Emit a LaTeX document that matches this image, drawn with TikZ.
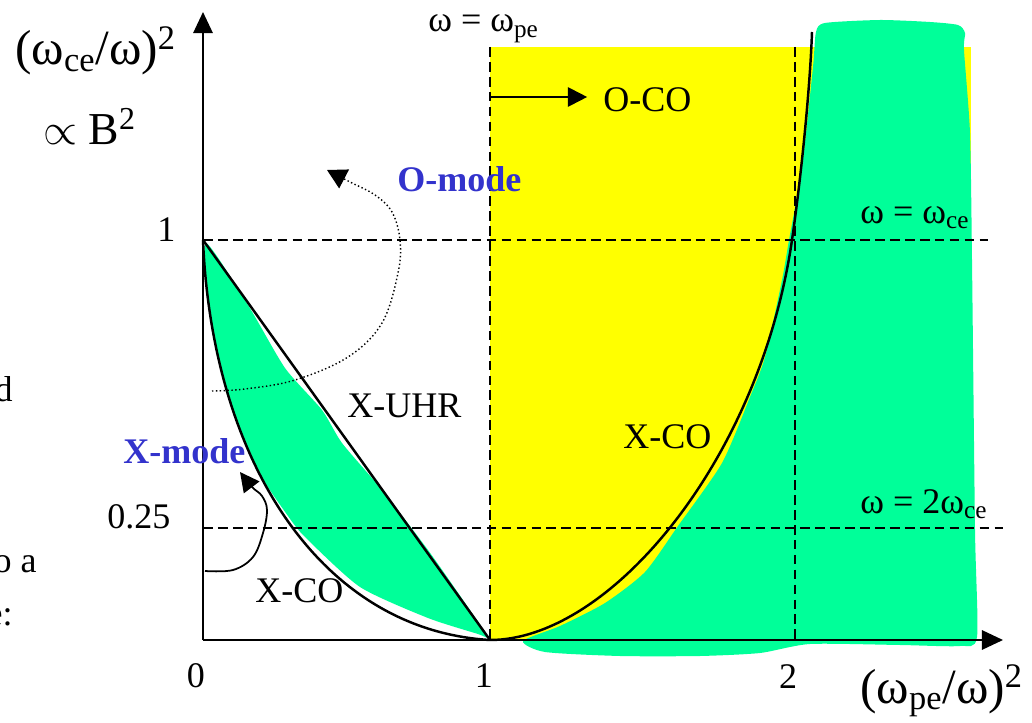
\documentclass[tikz,border=0pt]{standalone}
\usepackage{fontspec}
\setmainfont{Liberation Serif}
\usetikzlibrary{arrows.meta}
\definecolor{modeblue}{HTML}{3333CC}
\definecolor{cogreen}{HTML}{00FF99}
\definecolor{coyellow}{HTML}{FFFF00}
\begin{document}
\begin{tikzpicture}[
  x=0.02cm, y=-0.02cm,
  lab/.style={font=\fontsize{20.5}{24}\selectfont, inner sep=0pt, anchor=base west},
  axlab/.style={font=\fontsize{28}{32}\selectfont, inner sep=0pt, anchor=base west},
  mode/.style={lab, text=modeblue, font=\fontsize{20.5}{24}\selectfont\bfseries},
  axis/.style={line width=1.2pt, -{Triangle[length=12pt,width=11pt]}},
  cutoff/.style={line width=1.4pt},
  guide/.style={line width=1pt, dash pattern=on 5.5pt off 3pt},
  arr/.style={line width=1.1pt, -{Triangle[length=11pt,width=11pt]}},
  dotarr/.style={line width=0.8pt, dash pattern=on 0.8pt off 1.4pt, -{Triangle[length=11pt,width=12pt]}}
]
  \useasboundingbox (0,0) rectangle (1032,723);
  %% --- key points ---
  \coordinate (O)    at (203,640);
  \coordinate (ytip) at (203,12);
  \coordinate (xtip) at (1003,640);
  \coordinate (one)  at (490,640);
  \coordinate (two)  at (795,640);
  \coordinate (top)  at (203,240);
  \coordinate (cross) at (792,240);
  %% --- shaded regions ---
  \fill[coyellow] (490,47) rectangle (971,640);
  \fill[cogreen] plot[smooth cycle, tension=0.4] coordinates {
    (523,641) (545,652) (620,656) (700,656) (760,653) (810,644) (900,645)
    (960,646) (977,637) (975,530) (972,260) (970,133) (964,50) (965,33)
    (958,25) (930,22) (880,20) (825,23) (816,32) (813,67) (802,167)
    (789,240) (782,280) (765,357) (750,397) (722,463) (678,526) (645,572)
    (605,603) (560,626)};
  \fill[cogreen] plot[smooth cycle, tension=0.4] coordinates {
    (206,243) (248,305) (285,368) (322,410) (342,443) (382,490) (428,550)
    (472,613) (488,637) (478,634) (428,618) (360,587) (305,537) (288,516)
    (259,473) (237,421) (220,365) (209,304)};
  %% --- guide lines ---
  \draw[guide] (top) -- (988,240);
  \draw[guide] (203,528) -- (1003,528);
  \draw[guide] (490,47) -- (one);
  \draw[guide] (795,47) -- (two);
  %% --- cutoff curves ---
  \draw[cutoff] (top) .. controls (212,460) and (320,630) .. (one);
  \draw[cutoff] (top) -- (one);
  \draw[cutoff] (one) .. controls (610,640) and (760,460) .. (cross)
                      .. controls (800.7,180) and (810,90) .. (812,32);
  %% --- axes ---
  \draw[axis] (O) -- (ytip);
  \draw[axis] (O) -- (xtip);
  %% --- labels ---
  \node[axlab] (ylab) at (15,65) {(ω\textsubscript{ce}/ω)\textsuperscript{2}};
  \node[lab, font=\fontsize{26}{30}\selectfont] (prop) at (43,145) {$\propto$ B\textsuperscript{2}};
  \node[axlab] (xlab) at (860,703) {(ω\textsubscript{pe}/ω)\textsuperscript{2}};
  \node[lab] (wpe) at (428,32) {ω = ω\textsubscript{pe}};
  \node[lab] (wce) at (860,223) {ω = ω\textsubscript{ce}};
  \node[lab] (w2ce) at (860,513) {ω = 2ω\textsubscript{ce}};
  \node[lab] (oco) at (603,112) {O-CO};
  \node[mode] (omode) at (397,192) {O-mode};
  \node[mode] (xmode) at (123,463) {X-mode};
  \node[lab] (uhr) at (347,417) {X-UHR};
  \node[lab] (xcoA) at (623,448) {X-CO};
  \node[lab] (xcoB) at (255,602) {X-CO};
  \node[lab] (yone) at (157,241) {1};
  \node[lab] (yqrt) at (107,528) {0.25};
  \node[lab, anchor=base] (xzero) at (196,687) {0};
  \node[lab, anchor=base] (xone) at (484,687) {1};
  \node[lab, anchor=base] (xtwo) at (788,688) {2};
  %% --- cut text on the left edge ---
  \node[lab, anchor=base east] (cutA) at (13,401) {d};
  \node[lab, anchor=base east] (cutB) at (37,572) {o a};
  \node[lab, anchor=base east] (cutC) at (13,625) {e:};
  %% --- arrows ---
  \coordinate (ocostart) at (490,97);
  \draw[arr, shorten >=9pt] (ocostart) -- (ocostart -| oco.west);
  \coordinate (omstart) at (212,391);
  \coordinate (omend) at (327,170);
  \draw[dotarr] plot[smooth, tension=0.6] coordinates {
    (omstart) (245,389) (295,380) (348,357) (382,323) (398,273) (400,240)
    (392,212) (375,195) (350,182) (omend)};
  \coordinate (xmstart) at (205,571);
  \coordinate (xmend) at (240,472);
  \draw[arr, line width=1pt] plot[smooth, tension=0.6] coordinates {
    (xmstart) (233,570) (253,557) (263,533) (267,510) (262,496) (252,487)
    (xmend)};
\end{tikzpicture}
\end{document}
